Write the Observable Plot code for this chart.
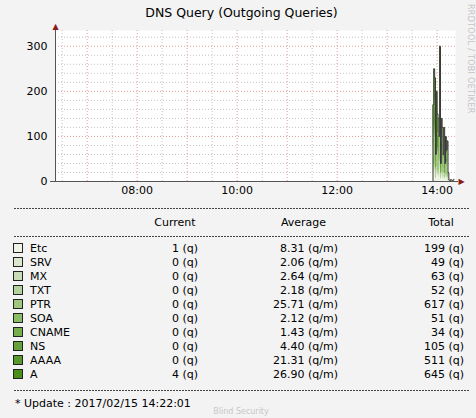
<!DOCTYPE html>
<html>
<head>
<meta charset="utf-8">
<script src="https://cdn.jsdelivr.net/npm/d3@7"></script>
<script src="https://cdn.jsdelivr.net/npm/@observablehq/plot@0.6"></script>
<style>
  html, body { margin: 0; padding: 0; background: #f3f3f3; }
  #wrap { position: relative; width: 476px; height: 418px; overflow: hidden; background: #f3f3f3;
          font-family: "DejaVu Sans", sans-serif; color: #000; }
  .abs { position: absolute; white-space: nowrap; }
  .dash { position: absolute; left: 14px; width: 456px; height: 1px;
          background: repeating-linear-gradient(to right, #444 0 2px, transparent 2px 3px); }
  #chart { position: absolute; left: 0; top: 20px; }
</style>
</head>
<body>
<div id="wrap"></div>
<script>
// ---------- data ----------
const title = "DNS Query (Outgoing Queries)";
const types   = ["Etc", "SRV", "MX", "TXT", "PTR", "SOA", "CNAME", "NS", "AAAA", "A"];
const colors  = ["#eef3e6", "#dae7cd", "#c8ddb5", "#b3d299", "#9fc77e", "#8abb65", "#76ad4d", "#64a13a", "#579a2b", "#4a8f19"];
const current = [1, 0, 0, 0, 0, 0, 0, 0, 0, 4];
const average = [8.31, 2.06, 2.64, 2.18, 25.71, 2.12, 1.43, 4.40, 21.31, 26.90];
const total   = [199, 49, 63, 52, 617, 51, 34, 105, 511, 645];
const updateText = "* Update : 2017/02/15 14:22:01";

// per-minute samples starting 13:54 UTC (queries per minute)
const seriesStart = "2017-02-15T13:54:00Z";
const sEtc   = [0,15,22,20,5,18,13,12,9,27,4,12,11,5,11,4,9,6,8,2,2,2,2,2,2,2,1];
const sSRV   = [0,3,5,5,1,4,3,3,2,6,1,3,2,1,2,1,2,1,2,0,0,0,0,0,0,0,0];
const sMX    = [0,5,7,7,2,6,4,4,3,9,1,4,4,2,4,1,3,2,3,1,0,0,0,0,0,0,0];
const sTXT   = [0,4,6,5,1,5,4,3,2,7,1,3,3,1,3,1,2,2,2,0,0,0,0,0,0,0,0];
const sPTR   = [0,44,65,60,16,52,39,36,26,78,10,36,31,16,31,10,26,18,23,5,0,0,1,0,0,0,0];
const sSOA   = [0,4,5,5,1,4,3,3,2,6,1,3,2,1,2,1,2,2,2,1,0,0,0,0,0,0,0];
const sCNAME = [0,2,4,3,1,2,2,3,2,4,0,3,2,1,2,0,2,1,1,0,0,0,0,0,0,0,0];
const sNS    = [0,8,11,10,3,9,7,6,4,13,2,6,5,3,5,2,4,3,4,1,0,0,0,0,0,0,0];
const sAAAA  = [0,37,55,51,13,44,33,31,22,66,9,31,26,13,26,9,22,15,20,4,0,0,0,0,0,0,0];
const sA     = [0,48,70,64,17,56,42,39,28,84,11,39,34,17,34,11,28,20,25,6,1,0,1,1,0,1,4];
const series = [sEtc, sSRV, sMX, sTXT, sPTR, sSOA, sCNAME, sNS, sAAAA, sA];

const xStart = "2017-02-15T06:22:00Z";
const xEnd   = "2017-02-15T14:22:00Z";
const xTickLabels = ["08:00", "10:00", "12:00", "14:00"];
const yTicks = [0, 100, 200, 300];
const yMax = 335;

// ---------- build ----------
const t0 = new Date(seriesStart);
const data = [];
series.forEach((s, k) => s.forEach((v, i) => data.push({time: d3.utcMinute.offset(t0, i), type: types[k], value: v})));
const totals = sEtc.map((_, i) => ({time: d3.utcMinute.offset(t0, i), total: d3.sum(series, s => s[i])}));

const x0 = new Date(xStart), x1 = new Date(xEnd);
const msPerPx = (x1 - x0) / 400;
const xTicks = xTickLabels.map(s => new Date(`2017-02-15T${s}:00Z`));
const hours = d3.utcHour.range(d3.utcHour.ceil(x0), x1);
const halfHours = d3.utcMinute.every(30).range(x0, x1).filter(d => d.getUTCMinutes() === 30);
const yMinor = d3.range(20, yMax, 20).filter(v => v % 100 !== 0);
const yMajor = yTicks.filter(v => v > 0);

const plot = Plot.plot({
  width: 476, height: 180,
  marginLeft: 55, marginRight: 21, marginTop: 10, marginBottom: 19,
  style: {fontFamily: "DejaVu Sans", fontSize: "11px", color: "#000", background: "transparent", overflow: "visible"},
  x: {type: "utc", domain: [x0, x1], ticks: xTicks, tickFormat: d3.utcFormat("%H:%M"), tickSize: 0, tickPadding: 5, label: null},
  y: {domain: [0, yMax], ticks: yTicks, tickSize: 0, tickPadding: 8, label: null},
  color: {domain: types, range: colors},
  marks: [
    Plot.frame({fill: "white", stroke: null}),
    Plot.ruleX(halfHours, {stroke: "#c4c4c4", strokeDasharray: "1,2"}),
    Plot.ruleY(yMinor, {stroke: "#c4c4c4", strokeDasharray: "1,2"}),
    Plot.ruleX(hours, {stroke: "#e39c9c", strokeDasharray: "1,2"}),
    Plot.ruleY(yMajor, {stroke: "#e39c9c", strokeDasharray: "1,2"}),
    Plot.areaY(data, {x: "time", y: "value", z: "type", fill: "type", order: types, curve: "step-after"}),
    Plot.lineY(totals, {x: "time", y: "total", stroke: "#3a3a3a", strokeWidth: 1, curve: "step-after"}),
    Plot.ruleX([x0], {y1: 0, y2: 342, stroke: "#555"}),
    Plot.ruleY([0], {x1: new Date(+x0 - 5 * msPerPx), x2: new Date(+x1 + 3 * msPerPx), stroke: "#555"}),
    Plot.text([x0], {x: d => d, y: () => 345, text: () => "\u25B2", fill: "#8b1a1a", fontSize: 8}),
    Plot.text([x1], {x: d => new Date(+d + 6 * msPerPx), y: () => 0, text: () => "\u25B6", fill: "#8b1a1a", fontSize: 8})
  ]
});
plot.id = "chart";

const wrap = document.getElementById("wrap");
function addText(txt, left, cy, opts = {}) {
  const d = document.createElement("div");
  d.className = "abs";
  d.textContent = txt;
  const fs = opts.size || 11;
  d.style.fontSize = fs + "px";
  d.style.lineHeight = "14px";
  d.style.top = (cy - 6) + "px";
  if (opts.align === "right") { d.style.right = (476 - left) + "px"; }
  else if (opts.align === "center") { d.style.left = left + "px"; d.style.transform = "translateX(-50%)"; }
  else d.style.left = left + "px";
  if (opts.color) d.style.color = opts.color;
  wrap.appendChild(d);
  return d;
}
function addDash(y) {
  const d = document.createElement("div");
  d.className = "dash";
  d.style.top = y + "px";
  wrap.appendChild(d);
}

addText(title, 241.5, 12, {align: "center", size: 12.5});
wrap.appendChild(plot);

// watermark
const wm = document.createElement("div");
wm.className = "abs";
wm.textContent = "RRDTOOL / TOBI OETIKER";
Object.assign(wm.style, {left: "466px", top: "4px", fontSize: "8px", letterSpacing: "0.3px", color: "#c4c4c4", writingMode: "vertical-rl", lineHeight: "9px"});
wrap.appendChild(wm);

// legend
addDash(208);
addText("Current", 175, 222, {align: "center"});
addText("Average", 303.5, 222, {align: "center"});
addText("Total", 441, 222, {align: "center"});
addDash(236);
types.forEach((t, i) => {
  const cy = 248 + 14 * i;
  const sw = document.createElement("div");
  sw.className = "abs";
  Object.assign(sw.style, {left: "13px", top: (cy - 5) + "px", width: "10px", height: "10px",
    background: colors[i], border: "1px solid #222", boxSizing: "border-box"});
  wrap.appendChild(sw);
  addText(t, 30, cy);
  addText(`${current[i]} (q)`, 198, cy, {align: "right"});
  addText(`${average[i].toFixed(2)} (q/m)`, 338, cy, {align: "right"});
  addText(`${total[i]} (q)`, 464, cy, {align: "right"});
});
addDash(390);
addText(updateText, 15, 403);
addText("Blind Security", 241, 411, {align: "center", size: 8, color: "#c8c8c8"});
</script>
</body>
</html>
